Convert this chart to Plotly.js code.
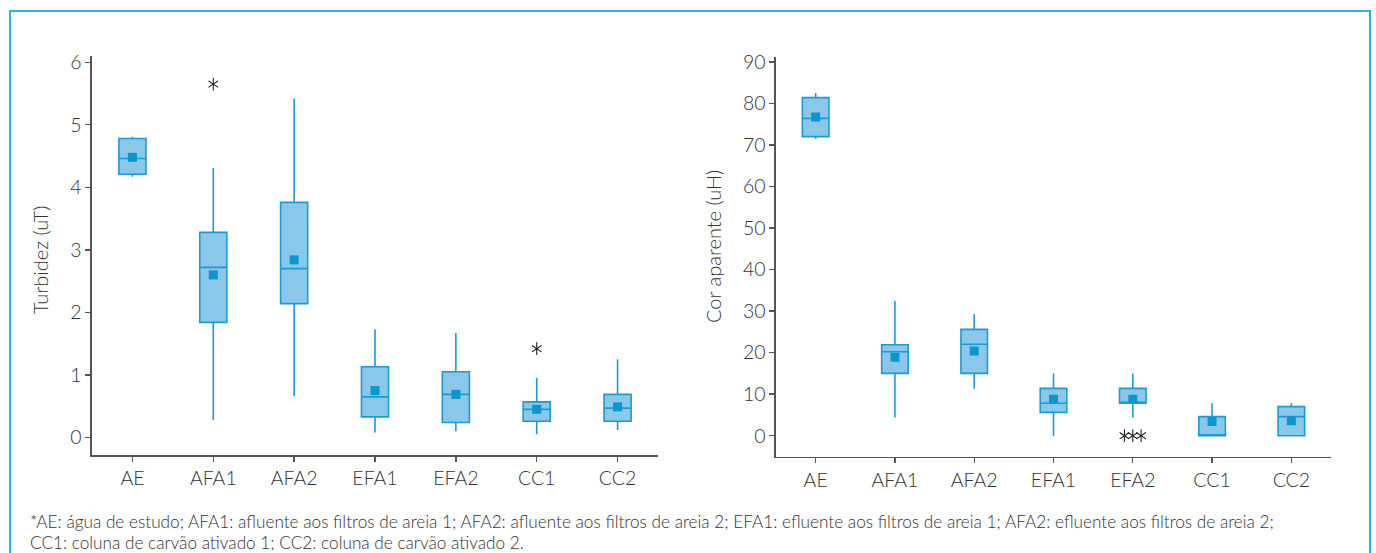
<!DOCTYPE html>
<html>
<head>
<meta charset="utf-8">
<script src="https://cdn.plot.ly/plotly-3.0.1.min.js"></script>
<style>
  html, body { margin: 0; padding: 0; background: #ffffff; }
  #chart { width: 1376px; height: 553px; }
</style>
</head>
<body>
<div id="chart"></div>
<script>
// Sampling points along the treatment line
const categories = ['AE', 'AFA1', 'AFA2', 'EFA1', 'EFA2', 'CC1', 'CC2'];

// Turbidez (uT): box statistics per sampling point
const turbLower  = [4.17, 0.28, 0.66, 0.08, 0.10, 0.05, 0.12];
const turbQ1     = [4.21, 1.84, 2.14, 0.33, 0.24, 0.26, 0.26];
const turbMedian = [4.46, 2.72, 2.70, 0.65, 0.69, 0.45, 0.47];
const turbQ3     = [4.78, 3.28, 3.76, 1.13, 1.05, 0.57, 0.69];
const turbUpper  = [4.81, 4.31, 5.42, 1.73, 1.67, 0.95, 1.25];
const turbMean   = [4.48, 2.60, 2.84, 0.75, 0.69, 0.45, 0.49];
const turbOutlierCat = ['AFA1', 'CC1'];
const turbOutlierVal = [5.65, 1.42];

// Cor aparente (uH): box statistics per sampling point
const corLower  = [71.5, 4.4, 11.3, 0.0, 4.4, 0.0, 0.0];
const corQ1     = [72.0, 15.0, 15.0, 5.6, 7.8, 0.0, 0.0];
const corMedian = [76.4, 20.2, 22.0, 7.8, 7.9, 0.0, 4.6];
const corQ3     = [81.4, 21.9, 25.6, 11.4, 11.4, 4.6, 7.0];
const corUpper  = [82.5, 32.5, 29.3, 15.0, 15.0, 7.8, 7.8];
const corMean   = [76.7, 18.9, 20.4, 8.8, 8.8, 3.4, 3.6];
const corOutlierCat = ['EFA2', 'EFA2', 'EFA2'];
const corOutlierVal = [0, 0, 0];

const footnoteLines = [
  '*AE: água de estudo; AFA1: afluente aos filtros de areia 1; AFA2: afluente aos filtros de areia 2; EFA1: efluente aos filtros de areia 1; AFA2: efluente aos filtros de areia 2;',
  'CC1: coluna de carvão ativado 1; CC2: coluna de carvão ativado 2.'
];

const W = 1376, H = 553;
const FONT = 'Lato, "Open Sans", sans-serif';
const TEXT = '#333333';
const BOX_FILL = '#8bc7e8';
const BOX_LINE = '#1a9bd7';
const MEAN_COLOR = '#0a96d0';

const idx = categories.map((_, i) => i);

// spread repeated outliers of one category side by side
function outlierX(cats) {
  const counts = {}, seen = {};
  cats.forEach(c => { counts[c] = (counts[c] || 0) + 1; });
  return cats.map(c => {
    const k = seen[c] || 0; seen[c] = k + 1;
    return categories.indexOf(c) + (k - (counts[c] - 1) / 2) * 0.105;
  });
}

function panel(xa, ya, lower, q1, med, q3, upper, mean, oCat, oVal) {
  const box = {
    type: 'box', xaxis: xa, yaxis: ya,
    x: idx, lowerfence: lower, q1: q1, median: med, q3: q3, upperfence: upper,
    boxpoints: false, width: 0.335, whiskerwidth: 0,
    fillcolor: BOX_FILL, line: { color: BOX_LINE, width: 1.6 },
    hoverinfo: 'skip', showlegend: false
  };
  const means = {
    type: 'scatter', mode: 'markers', xaxis: xa, yaxis: ya,
    x: idx, y: mean,
    marker: { symbol: 'square', size: 9, color: MEAN_COLOR },
    hoverinfo: 'skip', showlegend: false
  };
  const ox = outlierX(oCat);
  const starA = {
    type: 'scatter', mode: 'markers', xaxis: xa, yaxis: ya,
    x: ox, y: oVal,
    marker: { symbol: 'y-up-open', size: 8, color: '#222', line: { color: '#222', width: 1.1 } },
    hoverinfo: 'skip', showlegend: false
  };
  const starB = Object.assign({}, starA, {
    marker: { symbol: 'y-down-open', size: 8, color: '#222', line: { color: '#222', width: 1.1 } }
  });
  return [box, means, starA, starB];
}

const data = [].concat(
  panel('x', 'y', turbLower, turbQ1, turbMedian, turbQ3, turbUpper, turbMean, turbOutlierCat, turbOutlierVal),
  panel('x2', 'y2', corLower, corQ1, corMedian, corQ3, corUpper, corMean, corOutlierCat, corOutlierVal)
);

const axisStyle = {
  showline: true, linecolor: '#555', linewidth: 1.6,
  ticks: 'outside', ticklen: 5, tickwidth: 1.4, tickcolor: '#555',
  showgrid: false, zeroline: false, fixedrange: true,
  tickfont: { family: FONT, size: 19.5, color: TEXT, weight: 300 }
};

const xTicks = { tickmode: 'array', tickvals: idx, ticktext: categories, range: [-0.5, 6.5] };

const px = v => v / W;
const py = v => 1 - v / H;

const layout = {
  width: W, height: H,
  margin: { l: 0, r: 0, t: 0, b: 0 },
  paper_bgcolor: '#ffffff', plot_bgcolor: '#ffffff',
  font: { family: FONT, color: TEXT },
  showlegend: false,
  xaxis: Object.assign({}, axisStyle, xTicks, { domain: [px(92), px(658)], anchor: 'y' }),
  yaxis: Object.assign({}, axisStyle, { domain: [py(455), py(56)], anchor: 'x', range: [-0.28, 6.1], tickvals: [0, 1, 2, 3, 4, 5, 6] }),
  xaxis2: Object.assign({}, axisStyle, xTicks, { domain: [px(776), px(1331)], anchor: 'y2' }),
  yaxis2: Object.assign({}, axisStyle, { domain: [py(456.7), py(57.3)], anchor: 'x2', range: [-5.06, 91.1], tickvals: [0, 10, 20, 30, 40, 50, 60, 70, 80, 90] }),
  annotations: [
    { text: 'Turbidez (uT)', xref: 'paper', yref: 'paper', x: px(40), y: py(260),
      textangle: -90, showarrow: false, xanchor: 'center', yanchor: 'middle',
      font: { family: FONT, size: 20, color: TEXT, weight: 300 } },
    { text: 'Cor aparente (uH)', xref: 'paper', yref: 'paper', x: px(713), y: py(247),
      textangle: -90, showarrow: false, xanchor: 'center', yanchor: 'middle',
      font: { family: FONT, size: 20, color: TEXT, weight: 300 } },
    { text: footnoteLines[0], xref: 'paper', yref: 'paper', x: px(28), y: py(521.5),
      showarrow: false, xanchor: 'left', yanchor: 'middle', align: 'left',
      font: { family: FONT, size: 17.2, color: TEXT, weight: 300 } },
    { text: footnoteLines[1], xref: 'paper', yref: 'paper', x: px(28), y: py(542.5),
      showarrow: false, xanchor: 'left', yanchor: 'middle', align: 'left',
      font: { family: FONT, size: 17.2, color: TEXT, weight: 300 } }
  ],
  shapes: [
    { type: 'rect', xref: 'paper', yref: 'paper', x0: px(10), x1: px(1370), y0: -0.1, y1: py(11),
      line: { color: '#33b0e4', width: 2 }, fillcolor: 'rgba(0,0,0,0)', layer: 'below' }
  ]
};

Plotly.newPlot('chart', data, layout, { displayModeBar: false, staticPlot: true });
</script>
</body>
</html>
